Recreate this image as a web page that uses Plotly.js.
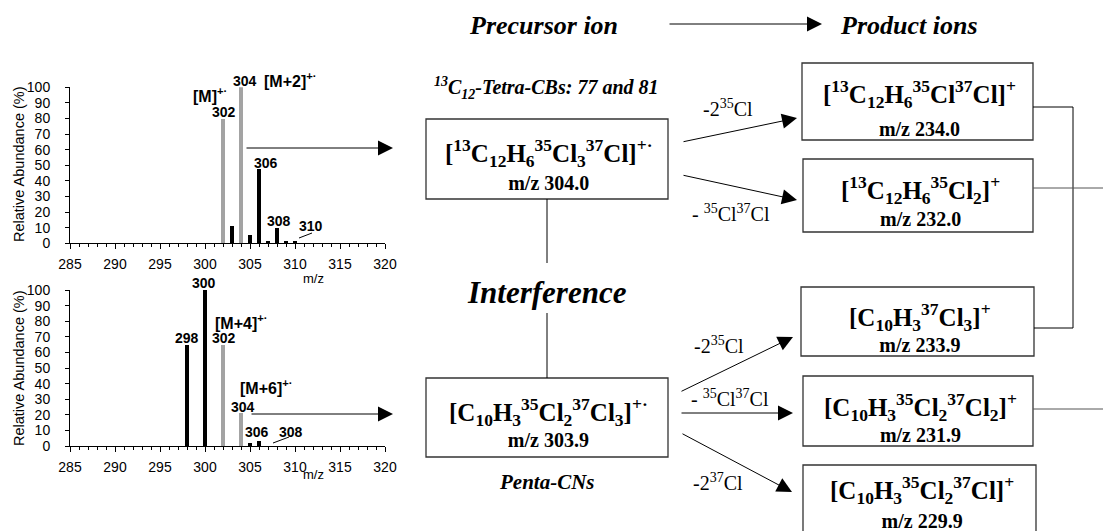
<!DOCTYPE html>
<html><head><meta charset="utf-8">
<script src="https://cdn.plot.ly/plotly-3.0.1.min.js"></script>
<style>html,body{margin:0;padding:0;background:#fff;overflow:hidden}</style>
</head><body><div id="chart" style="width:1103px;height:531px"></div>
<script>
// ---------------- data ----------------
// upper spectrum: 13C12-Tetra-CBs
const mzTop = [302, 303, 304, 305, 306, 307, 308, 309, 310];
const abundanceTop = [80, 11.3, 100, 5.6, 47.5, 1.5, 9.8, 1.2, 1.5];
const monitoredTop = [true, false, true, false, false, false, false, false, false];
const peakLabelMzTop = [302, 304, 306, 308, 310];
const ionLabelsTop = ['[M]<sup>+·</sup>', '[M+2]<sup>+·</sup>'];

// lower spectrum: Penta-CNs
const mzBottom = [298, 300, 302, 304, 305, 306];
const abundanceBottom = [65, 100, 65, 21, 2, 3.4];
const monitoredBottom = [false, false, true, true, false, false];
const peakLabelMzBottom = [298, 300, 302, 304, 306, 308];
const ionLabelsBottom = ['[M+4]<sup>+·</sup>', '[M+6]<sup>+·</sup>'];

const xTicks = [285, 290, 295, 300, 305, 310, 315, 320];
const yTicks = [0, 10, 20, 30, 40, 50, 60, 70, 80, 90, 100];

// scheme texts
const precursorFormulas = ['[<sup>13</sup>C<sub>12</sub>H<sub>6</sub><sup>35</sup>Cl<sub>3</sub><sup>37</sup>Cl]<sup>+·</sup>',
                           '[C<sub>10</sub>H<sub>3</sub><sup>35</sup>Cl<sub>2</sub><sup>37</sup>Cl<sub>3</sub>]<sup>+·</sup>'];
const precursorMz = ['m/z 304.0', 'm/z 303.9'];
const productFormulas = ['[<sup>13</sup>C<sub>12</sub>H<sub>6</sub><sup>35</sup>Cl<sup>37</sup>Cl]<sup>+</sup>',
                         '[<sup>13</sup>C<sub>12</sub>H<sub>6</sub><sup>35</sup>Cl<sub>2</sub>]<sup>+</sup>',
                         '[C<sub>10</sub>H<sub>3</sub><sup>37</sup>Cl<sub>3</sub>]<sup>+</sup>',
                         '[C<sub>10</sub>H<sub>3</sub><sup>35</sup>Cl<sub>2</sub><sup>37</sup>Cl<sub>2</sub>]<sup>+</sup>',
                         '[C<sub>10</sub>H<sub>3</sub><sup>35</sup>Cl<sub>2</sub><sup>37</sup>Cl]<sup>+</sup>'];
const productMz = ['m/z 234.0', 'm/z 232.0', 'm/z 233.9', 'm/z 231.9', 'm/z 229.9'];
const lossLabels = ['-2<sup>35</sup>Cl', '- <sup>35</sup>Cl<sup>37</sup>Cl',
                    '-2<sup>35</sup>Cl', '- <sup>35</sup>Cl<sup>37</sup>Cl', '-2<sup>37</sup>Cl'];

// ---------------- layout helpers ----------------
const W = 1103, H = 531;
const px = x => x / W;
const py = y => 1 - y / H;
const SERIF = 'Liberation Serif, Times New Roman, serif';
const SANS = 'Liberation Sans, Arial, sans-serif';
const GRAY = '#a3a3a3';

const shapes = [];
const annotations = [];

function text(cx, cy, t, size, opts) {
  opts = opts || {};
  annotations.push({xref: 'paper', yref: 'paper', x: px(cx), y: py(cy), text: t, showarrow: false,
    xanchor: opts.xanchor || 'center', yanchor: 'middle', textangle: opts.angle || 0,
    font: {family: opts.family || SERIF, size: size, color: '#000',
           weight: opts.bold ? 'bold' : 'normal', style: opts.italic ? 'italic' : 'normal'}});
}
// two-line box label: formula (large) over m/z (smaller)
function boxLabel(cx, cy, formula, mz, fSize, mSize, lineSize) {
  const t = '<span style="font-size:' + fSize + 'px">' + formula + '</span><br>' +
            '<span style="font-size:' + mSize + 'px">' + mz + '</span>';
  text(cx, cy, t, lineSize, {bold: true});
}
function line(x0, y0, x1, y1, color, w) {
  shapes.push({type: 'line', xref: 'paper', yref: 'paper', x0: px(x0), y0: py(y0), x1: px(x1), y1: py(y1),
    line: {color: color || '#000', width: w || 1}});
}
function rect(x0, y0, x1, y1) {
  shapes.push({type: 'rect', xref: 'paper', yref: 'paper', x0: px(x0), y0: py(y0), x1: px(x1), y1: py(y1),
    line: {color: '#333', width: 1.3}, fillcolor: 'rgba(0,0,0,0)'});
}
function arrow(x1, y1, x2, y2) {
  annotations.push({xref: 'paper', yref: 'paper', x: px(x2), y: py(y2), ax: x1 - x2, ay: y1 - y2,
    axref: 'pixel', ayref: 'pixel', text: '', showarrow: true, arrowhead: 2, arrowsize: 3,
    arrowwidth: 1, arrowcolor: '#000', standoff: 0, startstandoff: 0});
}

// ---------------- spectra ----------------
function bars(mz, ab, mon, xa, ya) {
  return {type: 'bar', x: mz, y: ab, xaxis: xa, yaxis: ya, width: 0.35,
    marker: {color: mon.map(m => m ? GRAY : '#000'), line: {width: 0}},
    hoverinfo: 'x+y', showlegend: false};
}
const traces = [bars(mzTop, abundanceTop, monitoredTop, 'x', 'y'),
                bars(mzBottom, abundanceBottom, monitoredBottom, 'x2', 'y2')];

function xAxis(anchor, d) {
  return {domain: d, range: [285, 320], anchor: anchor, tickvals: xTicks, ticks: 'outside', ticklen: 5,
    tickcolor: '#000', showline: true, linecolor: '#000', linewidth: 1, showgrid: false, zeroline: false,
    minor: {dtick: 1, tick0: 285, ticks: 'outside', ticklen: 3, tickcolor: '#000', showgrid: false},
    ticklabelstandoff: 3, tickfont: {family: SANS, size: 14, color: '#000'}, fixedrange: true};
}
function yAxis(anchor, d) {
  return {domain: d, range: [0, 100], anchor: anchor, tickvals: yTicks, ticks: 'outside', ticklen: 4,
    tickcolor: '#000', showline: true, linecolor: '#000', linewidth: 1, showgrid: false, zeroline: false,
    ticklabelstandoff: 12, tickfont: {family: SANS, size: 14, color: '#000'}, fixedrange: true};
}
const xDom = [px(70), px(385)];

// peak labels (data anchored)
const topShift = {302: [0.5, 6], 304: [3.5, 6], 306: [6.5, 6], 308: [2, 7], 310: [15.5, 15]};
const botShift = {298: [0, 6.6], 300: [-1, 7], 302: [0.5, 6.6], 304: [2, 6], 306: [-2.5, 8.5], 308: [14, 14]};
function peakLabels(list, mz, ab, xr, yr, shift) {
  list.forEach(m => {
    const i = mz.indexOf(m);
    const v = i >= 0 ? ab[i] : 0;
    annotations.push({xref: xr, yref: yr, x: m, y: v, text: String(m), showarrow: false,
      xanchor: 'center', yanchor: 'middle', xshift: shift[m][0], yshift: shift[m][1],
      font: {family: SANS, size: 14, color: '#000', weight: 'bold'}});
  });
}
peakLabels(peakLabelMzTop, mzTop, abundanceTop, 'x', 'y', topShift);
peakLabels(peakLabelMzBottom, mzBottom, abundanceBottom, 'x2', 'y2', botShift);
line(299, 238, 312, 233);
line(273, 443, 289, 437);

text(191, 95, ionLabelsTop[0], 16, {family: SANS, bold: true, xanchor: 'left'});
text(262, 80, ionLabelsTop[1], 16, {family: SANS, bold: true, xanchor: 'left'});
text(213, 322, ionLabelsBottom[0], 16, {family: SANS, bold: true, xanchor: 'left'});
text(238, 387, ionLabelsBottom[1], 16, {family: SANS, bold: true, xanchor: 'left'});

// axis titles
text(19, 164, 'Relative Abundance (%)', 14.5, {family: SANS, angle: -90});
text(19, 368, 'Relative Abundance (%)', 14.5, {family: SANS, angle: -90});
text(313, 278, 'm/z', 13, {family: SANS});
text(313, 474, 'm/z', 13, {family: SANS});

// arrows from spectra to precursor boxes
arrow(245, 148, 393, 148);
arrow(250, 414, 393, 414);

// ---------------- scheme ----------------
text(543, 25, 'Precursor ion', 26, {bold: true, italic: true});
arrow(668, 24, 822, 24);
text(838, 25, 'Product ions', 26, {bold: true, italic: true, xanchor: 'left'});
text(546, 88, '<sup>13</sup>C<sub>12</sub>-Tetra-CBs: 77 and 81', 20, {bold: true, italic: true});

// precursor boxes
rect(426, 119, 668, 199);
boxLabel(548, 164, precursorFormulas[0], precursorMz[0], 25, 20, 22);
rect(426, 378, 668, 457);
boxLabel(548, 422, precursorFormulas[1], precursorMz[1], 25, 20, 20);

line(547, 199, 547, 263);
text(547, 292, 'Interference', 31, {bold: true, italic: true});
line(547, 313, 547, 378);
text(547, 482, 'Penta-CNs', 21, {bold: true, italic: true});

// product boxes: [x0,y0,x1,y1, labelCenterY, lineSize]
const boxes = [[802, 63, 1033, 140, 108, 26], [803, 159, 1033, 232, 201, 21], [801, 287, 1034, 356, 327, 20],
               [803, 376, 1033, 446, 417, 20], [803, 465, 1036, 545, 502, 23]];
boxes.forEach((b, i) => {
  rect(b[0], b[1], b[2], b[3]);
  boxLabel((b[0] + b[2]) / 2 + 2, b[4], productFormulas[i], productMz[i], 25, 20, b[5]);
});

// fragmentation arrows
arrow(682, 142, 797, 118);
arrow(682, 175, 797, 200);
arrow(680, 392, 793, 337);
arrow(680, 413, 793, 413);
arrow(681, 433, 792, 492);
text(728, 108, lossLabels[0], 20);
text(731, 213, lossLabels[1], 20);
text(719, 345, lossLabels[2], 20);
text(730, 398, lossLabels[3], 20);
text(718, 482, lossLabels[4], 20);

// connectors on the right
line(1033, 107, 1073, 107);
line(1073, 107, 1073, 328);
line(1073, 328, 1034, 328);
line(1033, 188, 1103, 188, '#555');
line(1033, 409, 1103, 409, '#555');

const layout = {
  width: W, height: H, margin: {l: 0, r: 0, t: 0, b: 0},
  paper_bgcolor: '#fff', plot_bgcolor: 'rgba(0,0,0,0)',
  xaxis: xAxis('y', xDom), yaxis: yAxis('x', [py(243.3), py(87.3)]),
  xaxis2: xAxis('y2', xDom), yaxis2: yAxis('x2', [py(446), py(290)]),
  bargap: 0, shapes: shapes, annotations: annotations, showlegend: false
};
Plotly.newPlot('chart', traces, layout, {staticPlot: true, displayModeBar: false});
</script></body></html>
